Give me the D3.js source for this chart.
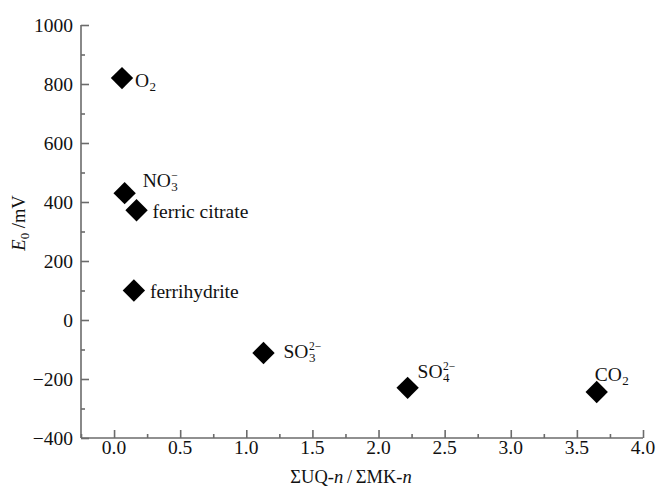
<!DOCTYPE html>
<html><head><meta charset="utf-8">
<script src="https://cdn.jsdelivr.net/npm/d3@7"></script>
<style>body{margin:0;background:#fff}svg{display:block}text{font-family:"Liberation Serif","DejaVu Serif",serif;fill:#111}</style>
</head><body><svg id="c" width="656" height="486"></svg>
<script>
const names = ["O", "NO", "ferric citrate", "ferrihydrite", "SO", "SO", "CO"];
const subs  = ["2", "3", "", "", "3", "4", "2"];
const sups  = ["", "\u2212", "", "", "2\u2212", "2\u2212", ""];
const xVals = [0.06, 0.08, 0.17, 0.15, 1.13, 2.22, 3.65];
const yVals = [820, 430, 372, 100, -112, -230, -244];
const xTicks = [0, 0.5, 1, 1.5, 2, 2.5, 3, 3.5, 4];
const yTicks = [-400, -200, 0, 200, 400, 600, 800, 1000];

// layout (label offsets from marker center, px)
const labelDx = [13, 18, 16, 16, 20, 10, -2];
const labelDy = [9, -6, 8, 7, 5, -10, -11];

const svg = d3.select("#c");
const x = d3.scaleLinear().domain([-0.25, 4]).range([81, 643]);
const y = d3.scaleLinear().domain([-400, 1000]).range([438, 25]);
const axisColor = "#6b6b6b";
const fs = 19.5;

// axes
const gx = svg.append("g").attr("transform", `translate(0,${y(-400)})`);
gx.call(d3.axisBottom(x).tickValues(d3.range(-0.25, 4.01, 0.25)).tickSize(-4).tickFormat(""));
gx.call(g => g.selectAll(".tick").filter(d => xTicks.some(t => Math.abs(t - d) < 1e-9)).select("line").attr("y2", -8));
gx.select(".domain").attr("d", `M${x(-0.25)},0H${x(4)}`);
const gy = svg.append("g").attr("transform", `translate(${x(-0.25)},0)`);
gy.call(d3.axisLeft(y).tickValues(d3.range(-400, 1001, 100)).tickSize(-4).tickFormat(""));
gy.call(g => g.selectAll(".tick").filter(d => yTicks.includes(d)).select("line").attr("x2", 8));
gy.select(".domain").attr("d", `M0,${y(-400)}V${y(1000)}`);
svg.selectAll(".domain,.tick line").attr("stroke", axisColor).attr("stroke-width", 1.6);

// tick labels
svg.append("g").selectAll("text").data(xTicks).join("text")
  .attr("x", d => x(d)).attr("y", y(-400) + 16).attr("text-anchor", "middle")
  .attr("font-size", fs).text(d => d.toFixed(1));
svg.append("g").selectAll("text").data(yTicks).join("text")
  .attr("x", x(-0.25) - 8).attr("y", d => y(d) + 6.5).attr("text-anchor", "end")
  .attr("font-size", fs).text(d => d < 0 ? "\u2212" + Math.abs(d) : d);

// axis titles
const xt = svg.append("text").attr("x", 351).attr("y", 483).attr("text-anchor", "middle").attr("font-size", 18.5);
xt.append("tspan").text("\u03A3UQ-");
xt.append("tspan").attr("font-style", "italic").text("n");
xt.append("tspan").text("\u2009/\u2009\u03A3MK-");
xt.append("tspan").attr("font-style", "italic").text("n");

const yt = svg.append("text").attr("transform", "translate(25,223) rotate(-90)").attr("text-anchor", "middle").attr("font-size", 18.5);
yt.append("tspan").attr("font-style", "italic").text("E");
yt.append("tspan").attr("font-size", 13).attr("dy", 4).text("0");
yt.append("tspan").attr("dy", -4).text(" /mV");

// markers
svg.append("g").selectAll("path").data(xVals).join("path")
  .attr("d", d3.symbol(d3.symbolSquare).size(250))
  .attr("transform", (d, i) => `translate(${x(d)},${y(yVals[i])}) rotate(45)`)
  .attr("fill", "#000");

// labels
names.forEach((n, i) => {
  const lx = x(xVals[i]) + labelDx[i], ly = y(yVals[i]) + labelDy[i];
  const t = svg.append("text").attr("x", lx).attr("y", ly).attr("font-size", fs).text(n);
  const w = t.node().getComputedTextLength();
  if (subs[i]) svg.append("text").attr("x", lx + w + 0.5).attr("y", ly + 4).attr("font-size", 13).text(subs[i]);
  if (sups[i]) svg.append("text").attr("x", lx + w + 0.5).attr("y", ly - 8).attr("font-size", 11.5).text(sups[i]);
});
</script></body></html>
